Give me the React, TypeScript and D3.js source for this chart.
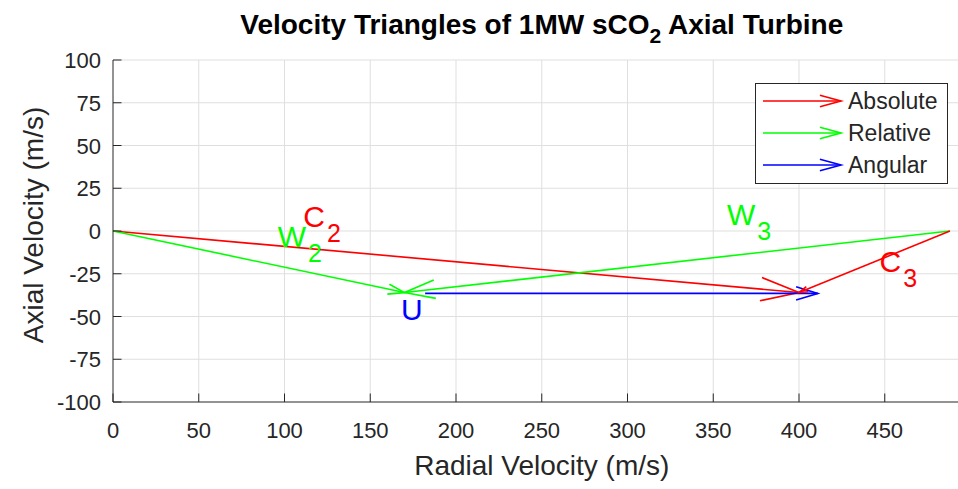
import React from 'react';
import * as d3 from 'd3';

// ---- data ----
const xTicks = [0, 50, 100, 150, 200, 250, 300, 350, 400, 450];
const yTicks = [-100, -75, -50, -25, 0, 25, 50, 75, 100];
const xDomain = [0, 500];
const yDomain = [-100, 100];

// velocity vectors (m/s): start -> end
const vecKind = ['Absolute', 'Relative', 'Angular', 'Relative', 'Absolute'];
const vecX0 = [0, 0, 182, 488, 488];
const vecY0 = [0, 0, -36.5, 0, 0];
const vecX1 = [400, 170, 411, 170, 400];
const vecY1 = [-36, -36, -36.5, -36, -36];

const legendLabels = ['Absolute', 'Relative', 'Angular'];

// text annotations (data coords of baseline-left)
const annKind = ['Absolute', 'Relative', 'Angular', 'Relative', 'Absolute'];
const annMain = ['C', 'W', 'U', 'W', 'C'];
const annSub = ['2', '2', '', '3', '3'];
const annX = [111, 96, 168, 358, 447];
const annY = [2.3, -9.4, -52, 3.5, -24];

const colors: Record<string, string> = { Absolute: '#ff0000', Relative: '#00ff00', Angular: '#0000ff' };

const W = 958, H = 489;
const L = 113, R = 970.5, T = 60, B = 402;
const FONT = '"Liberation Sans", Arial, Helvetica, sans-serif';
const TXT = '#262626';

function arrowHead(x0: number, y0: number, x1: number, y1: number, frac = 0.058, ang = 17) {
  const dx = x1 - x0, dy = y1 - y0;
  const len = Math.hypot(dx, dy);
  const hl = len * frac;
  const a = Math.atan2(dy, dx);
  const r = (ang * Math.PI) / 180;
  const p1 = [x1 - hl * Math.cos(a - r), y1 - hl * Math.sin(a - r)];
  const p2 = [x1 - hl * Math.cos(a + r), y1 - hl * Math.sin(a + r)];
  return `M${p1[0]},${p1[1]}L${x1},${y1}L${p2[0]},${p2[1]}`;
}

export default function App() {
  const x = d3.scaleLinear().domain(xDomain).range([L, R]);
  const y = d3.scaleLinear().domain(yDomain).range([B, T]);
  const tickLen = 8.5;
  const gridX = [...xTicks.filter(t => t !== 0), 500];

  return (
    <svg width={W} height={H} style={{ position: 'absolute', left: 0, top: 0, background: '#fff' }} fontFamily={FONT}>
      <rect x={0} y={0} width={W} height={H} fill="#fff" />
      {/* grid */}
      <g stroke="#dfdfdf" strokeWidth={1}>
        {gridX.map(t => (
          <line key={'gx' + t} x1={x(t)} x2={x(t)} y1={T} y2={B} />
        ))}
        {yTicks.filter(t => t !== -100).map(t => (
          <line key={'gy' + t} x1={L} x2={R} y1={y(t)} y2={y(t)} />
        ))}
      </g>
      {/* vectors */}
      <g fill="none" strokeWidth={1.6} strokeLinejoin="miter">
        {vecKind.map((k, i) => {
          const x0 = x(vecX0[i]), y0 = y(vecY0[i]), x1 = x(vecX1[i]), y1 = y(vecY1[i]);
          return (
            <g key={'v' + i} stroke={colors[k]}>
              <line x1={x0} y1={y0} x2={x1} y2={y1} />
              <path d={arrowHead(x0, y0, x1, y1)} />
            </g>
          );
        })}
      </g>
      {/* annotations */}
      {annKind.map((k, i) => (
        <text key={'a' + i} x={x(annX[i])} y={y(annY[i])} fill={colors[k]} fontSize={30}>
          {annMain[i]}
          {annSub[i] && (
            <tspan fontSize={25} dy={15} dx={2}>{annSub[i]}</tspan>
          )}
        </text>
      ))}
      {/* axes */}
      <g stroke={TXT} strokeWidth={1}>
        <line x1={L} x2={L} y1={T} y2={B} />
        <line x1={L} x2={R} y1={B} y2={B} />
        {xTicks.map(t => (
          <line key={'tx' + t} x1={x(t)} x2={x(t)} y1={B} y2={B - tickLen} />
        ))}
        {yTicks.map(t => (
          <line key={'ty' + t} x1={L} x2={L + tickLen} y1={y(t)} y2={y(t)} />
        ))}
      </g>
      <g fill={TXT} fontSize={22}>
        {xTicks.map(t => (
          <text key={'lx' + t} x={x(t)} y={B + 36} textAnchor="middle">{t}</text>
        ))}
        {yTicks.map(t => (
          <text key={'ly' + t} x={L - 12} y={y(t) + 8} textAnchor="end">{t}</text>
        ))}
      </g>
      <text x={(L + R) / 2} y={475} textAnchor="middle" fill={TXT} fontSize={28}>Radial Velocity (m/s)</text>
      <text transform={`translate(43,${(T + B) / 2 - 6}) rotate(-90)`} textAnchor="middle" fill={TXT} fontSize={28}>Axial Velocity (m/s)</text>
      {/* title */}
      <text x={(L + R) / 2} y={34} textAnchor="middle" fill="#000" fontSize={28} fontWeight="bold">
        Velocity Triangles of 1MW sCO<tspan fontSize={21} dy={9}>2</tspan><tspan dy={-9}> Axial Turbine</tspan>
      </text>
      {/* legend */}
      <g>
        <rect x={755.5} y={83.5} width={192} height={100} fill="#fff" stroke={TXT} strokeWidth={1} />
        {legendLabels.map((k, i) => {
          const cy = 101 + i * 32;
          return (
            <g key={'lg' + k}>
              <g stroke={colors[k]} strokeWidth={1.6} fill="none">
                <line x1={763} y1={cy} x2={841} y2={cy} />
                <path d={arrowHead(763, cy, 841, cy, 0.28, 15)} />
              </g>
              <text x={848} y={cy + 8} fontSize={23} fill={TXT}>{k}</text>
            </g>
          );
        })}
      </g>
    </svg>
  );
}
